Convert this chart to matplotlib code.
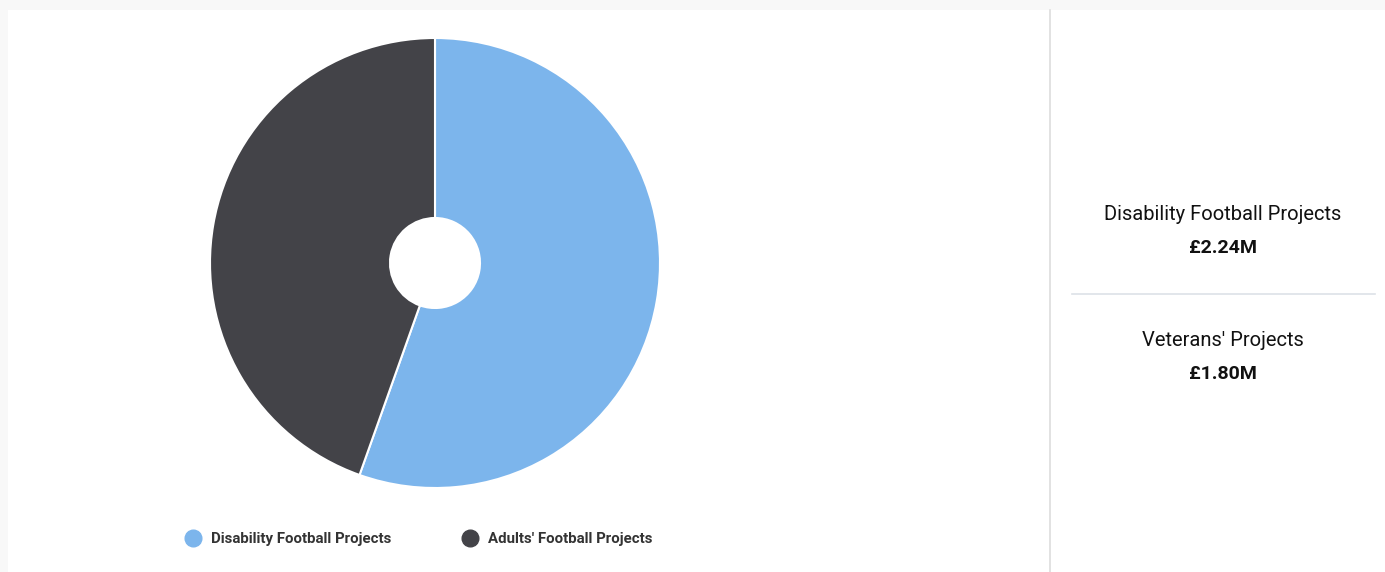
import matplotlib.pyplot as plt
from matplotlib.patches import Rectangle
from matplotlib.lines import Line2D

# Funding split
labels = ["Disability Football Projects", "Adults' Football Projects"]
values = [2.24, 1.80]
colors = ["#7cb5ec", "#434348"]

# Summary panel
summary_names = ["Disability Football Projects", "Veterans' Projects"]
summary_values = [2.24, 1.80]

W, H = 1385, 572
plt.rcParams['font.family'] = ['Roboto', 'DejaVu Sans']

fig = plt.figure(figsize=(W / 100, H / 100), dpi=100)
fig.patch.set_facecolor("#f8f8f8")

# white card
card = Rectangle((8 / W, 0), 1, 1 - 10 / H, transform=fig.transFigure,
                 facecolor="white", edgecolor="none", zorder=-10)
fig.add_artist(card)

# donut chart
cx, cy, r = 435, 263, 225
ax = fig.add_axes([(cx - r) / W, (H - cy - r) / H, 2 * r / W, 2 * r / H])
ax.set_zorder(5)
ax.pie(values, colors=colors, startangle=90, counterclock=False, radius=1,
       wedgeprops=dict(width=1 - 45 / r, edgecolor="white", linewidth=1.5))
ax.set_xlim(-1, 1)
ax.set_ylim(-1, 1)
ax.set_aspect("equal")
ax.axis("off")

# legend
legend_x = [193, 470]
for x, lab, col in zip(legend_x, labels, colors):
    fig.add_artist(Line2D([x / W], [1 - 538 / H], marker="o", markersize=12,
                          color=col, transform=fig.transFigure, linestyle="none"))
    fig.text((x + 18) / W, 1 - 539 / H, lab, fontsize=10.8, fontweight="bold",
             color="#333333", va="center", ha="left")

# dividers
fig.add_artist(Line2D([1050 / W, 1050 / W], [0, 1 - 10 / H], color="#dddddd",
                      linewidth=1.2, transform=fig.transFigure))
fig.add_artist(Line2D([1072 / W, 1375 / W], [1 - 294 / H, 1 - 294 / H], color="#dde2e8",
                      linewidth=1.2, transform=fig.transFigure))

# summary texts
for i, (name, val) in enumerate(zip(summary_names, summary_values)):
    y0 = 215 + i * 126
    fig.text(1223 / W, 1 - y0 / H, name, fontsize=14.5, color="#111111",
             ha="center", va="center")
    fig.text(1223 / W, 1 - (y0 + 33) / H, f"£{val:.2f}M", fontsize=14,
             fontweight="bold", color="#111111", ha="center", va="center")

fig.savefig("out.png", dpi=100, facecolor=fig.get_facecolor())
